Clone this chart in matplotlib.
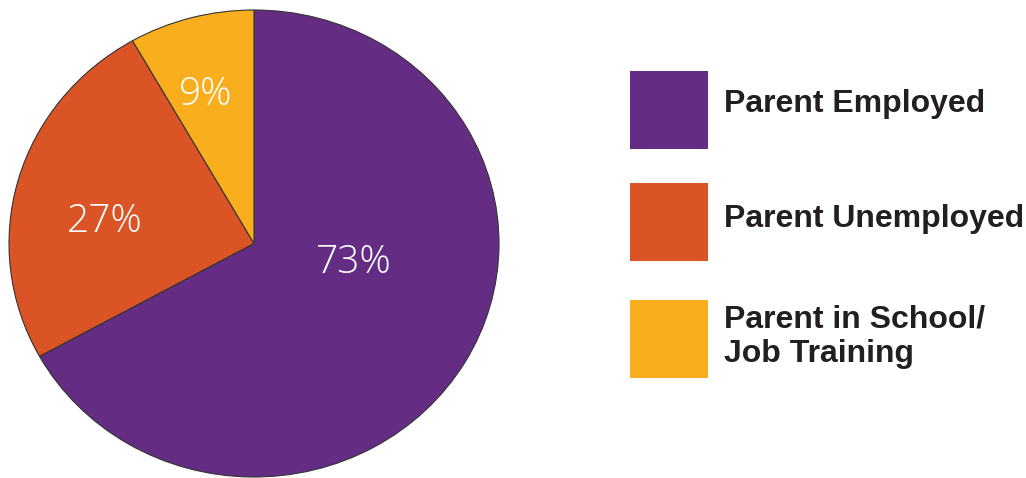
import matplotlib
matplotlib.use("Agg")
import matplotlib.pyplot as plt
from matplotlib.patches import Rectangle

categories = ["Parent Employed", "Parent Unemployed", "Parent in School/\nJob Training"]
values = [73, 27, 9]
pct_labels = ["73%", "27%", "9%"]
colors = ["#652C84", "#DB5426", "#F9AE1E"]

W, H = 1026, 478
fig = plt.figure(figsize=(W / 100, H / 100), dpi=100)

# pie axes sized to the (slightly elliptical) pie bounding box
px_l, px_r, px_t, px_b = 9, 499, 10, 477
ax = fig.add_axes([px_l / W, (H - px_b) / H, (px_r - px_l) / W, (px_b - px_t) / H])
wedges, _ = ax.pie(values, colors=colors, startangle=90, counterclock=False,
                   wedgeprops=dict(edgecolor="#333333", linewidth=0.8))
ax.set_aspect("auto")
ax.set_xlim(-1.0, 1.0)
ax.set_ylim(-1.0, 1.0)
ax.axis("off")

label_pos = [(0.408, -0.081), (-0.608, 0.094), (-0.196, 0.638)]
for (x, y), t in zip(label_pos, pct_labels):
    ax.text(x, y, t, color="white", fontsize=28, fontweight=300,
            family=["Open Sans", "DejaVu Sans"], ha="center", va="center")

# legend drawn in figure pixel coordinates
lax = fig.add_axes([0, 0, 1, 1])
lax.set_xlim(0, W)
lax.set_ylim(H, 0)
lax.axis("off")
sq_tops = [71, 183, 300]
sq_size = 78
text_centers = [103.5, 218.5, 337]
for top, c, name, tc in zip(sq_tops, colors, categories, text_centers):
    lax.add_patch(Rectangle((630, top), sq_size, sq_size, facecolor=c, edgecolor="none"))
    lax.text(724, tc, name, fontsize=23, fontweight="bold", color="#231F20",
             family=["Liberation Sans", "DejaVu Sans"], ha="left", va="center",
             linespacing=1.2)

fig.savefig("out.png", dpi=100)
